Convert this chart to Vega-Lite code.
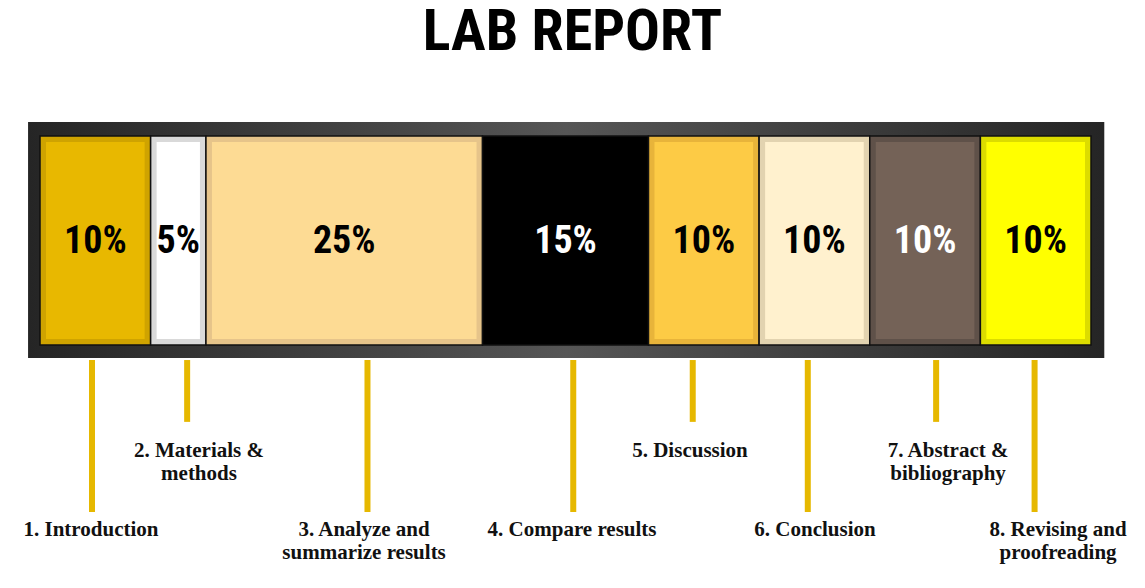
{
  "$schema": "https://vega.github.io/schema/vega-lite/v6.json",
  "width": 1145,
  "height": 588,
  "autosize": {"type": "none"},
  "padding": 0,
  "background": "white",
  "config": {"view": {"stroke": null}},
  "title": {
    "text": "LAB REPORT",
    "fontSize": 58,
    "font": "Roboto Condensed, Liberation Sans Narrow, DejaVu Sans Condensed, DejaVu Sans, sans-serif",
    "fontWeight": "bold",
    "color": "black",
    "anchor": "middle",
    "offset": -62
  },
  "datasets": {
    "frame": [{"x0": -1.08, "x1": 96.2, "y0": 0.938, "y1": 2.067}],
    "sections": [
      {"section": "1", "pct": "10%", "start": 0, "end": 10, "mid": 5, "bottom": 1, "top": 2, "center": 1.493},
      {"section": "2", "pct": "5%", "start": 10, "end": 15, "mid": 12.5, "bottom": 1, "top": 2, "center": 1.493},
      {"section": "3", "pct": "25%", "start": 15, "end": 40, "mid": 27.5, "bottom": 1, "top": 2, "center": 1.493},
      {"section": "4", "pct": "15%", "start": 40, "end": 55, "mid": 47.5, "bottom": 1, "top": 2, "center": 1.493},
      {"section": "5", "pct": "10%", "start": 55, "end": 65, "mid": 60, "bottom": 1, "top": 2, "center": 1.493},
      {"section": "6", "pct": "10%", "start": 65, "end": 75, "mid": 70, "bottom": 1, "top": 2, "center": 1.493},
      {"section": "7", "pct": "10%", "start": 75, "end": 85, "mid": 80, "bottom": 1, "top": 2, "center": 1.493},
      {"section": "8", "pct": "10%", "start": 85, "end": 95, "mid": 90, "bottom": 1, "top": 2, "center": 1.493}
    ],
    "links": [
      {"label": "1. Introduction", "anchor": 4.7, "from": 0.928, "depth": 0.201, "labelx": 4.61, "labely": 0.165},
      {"label": "2. Materials &\nmethods", "anchor": 13.3, "from": 0.928, "depth": 0.632, "labelx": 14.37, "labely": 0.545},
      {"label": "3. Analyze and\nsummarize results", "anchor": 29.6, "from": 0.928, "depth": 0.201, "labelx": 29.29, "labely": 0.165},
      {"label": "4. Compare results", "anchor": 48.2, "from": 0.928, "depth": 0.201, "labelx": 48.09, "labely": 0.165},
      {"label": "5. Discussion", "anchor": 59.0, "from": 0.928, "depth": 0.632, "labelx": 58.75, "labely": 0.545},
      {"label": "6. Conclusion", "anchor": 69.4, "from": 0.928, "depth": 0.201, "labelx": 70.05, "labely": 0.165},
      {"label": "7. Abstract &\nbibliography", "anchor": 81.0, "from": 0.928, "depth": 0.632, "labelx": 82.08, "labely": 0.545},
      {"label": "8. Revising and\nproofreading", "anchor": 89.9, "from": 0.928, "depth": 0.201, "labelx": 92.02, "labely": 0.165}
    ]
  },
  "layer": [
    {
      "data": {"name": "frame"},
      "mark": {
        "type": "rect",
        "fill": {
          "gradient": "linear", "x1": 0, "x2": 1, "y1": 0, "y2": 0,
          "stops": [
            {"offset": 0, "color": "#252525"},
            {"offset": 0.5, "color": "#565656"},
            {"offset": 1, "color": "#252525"}
          ]
        }
      },
      "encoding": {
        "x": {"field": "x0", "type": "quantitative", "scale": {"domain": [-3.616, 99.88], "nice": false, "zero": false}, "axis": null},
        "x2": {"field": "x1"},
        "y": {"field": "y1", "type": "quantitative", "scale": {"domain": [-0.163, 2.651], "nice": false, "zero": false}, "axis": null},
        "y2": {"field": "y0"}
      }
    },
    {
      "data": {"name": "sections"},
      "mark": {"type": "rect", "stroke": "#111111", "strokeWidth": 1.5},
      "encoding": {
        "x": {"field": "start", "type": "quantitative", "axis": null},
        "x2": {"field": "end"},
        "y": {"field": "top", "type": "quantitative", "axis": null},
        "y2": {"field": "bottom"},
        "fill": {
          "field": "section", "type": "nominal", "legend": null,
          "scale": {"domain": ["1","2","3","4","5","6","7","8"], "range": ["#CFA300", "#D9D9D9", "#E6C48A", "#000000", "#E8B43A", "#E2D3B0", "#5F5149", "#DCDC00"]}
        }
      }
    },
    {
      "data": {"name": "sections"},
      "mark": {"type": "rect", "xOffset": 6, "x2Offset": -6, "yOffset": 6, "y2Offset": -6},
      "encoding": {
        "x": {"field": "start", "type": "quantitative", "axis": null},
        "x2": {"field": "end"},
        "y": {"field": "top", "type": "quantitative", "axis": null},
        "y2": {"field": "bottom"},
        "color": {
          "field": "section", "type": "nominal", "legend": null,
          "scale": {"domain": ["1","2","3","4","5","6","7","8"], "range": ["#E8B800", "#FFFFFF", "#FDDB94", "#000000", "#FDCB45", "#FFF1CE", "#746257", "#FFFF00"]}
        }
      }
    },
    {
      "data": {"name": "sections"},
      "mark": {"type": "text", "fontSize": 38, "fontWeight": "bold", "font": "Roboto Condensed, Liberation Sans Narrow, DejaVu Sans Condensed, DejaVu Sans, sans-serif", "baseline": "middle", "align": "center"},
      "encoding": {
        "x": {"field": "mid", "type": "quantitative", "axis": null},
        "y": {"field": "center", "type": "quantitative", "axis": null},
        "text": {"field": "pct"},
        "color": {
          "condition": {"test": "datum.section === '4' || datum.section === '7'", "value": "#FFFFFF"},
          "value": "#000000"
        }
      }
    },
    {
      "data": {"name": "links"},
      "mark": {"type": "rule", "strokeWidth": 6, "color": "#E6B800"},
      "encoding": {
        "x": {"field": "anchor", "type": "quantitative", "axis": null},
        "y": {"field": "from", "type": "quantitative", "axis": null},
        "y2": {"field": "depth"}
      }
    },
    {
      "data": {"name": "links"},
      "mark": {"type": "text", "fontSize": 21, "fontWeight": "bold", "font": "Liberation Serif, serif", "baseline": "top", "align": "center", "lineBreak": "\n", "lineHeight": 23, "color": "#111111"},
      "encoding": {
        "x": {"field": "labelx", "type": "quantitative", "axis": null},
        "y": {"field": "labely", "type": "quantitative", "axis": null},
        "text": {"field": "label"}
      }
    }
  ]
}
